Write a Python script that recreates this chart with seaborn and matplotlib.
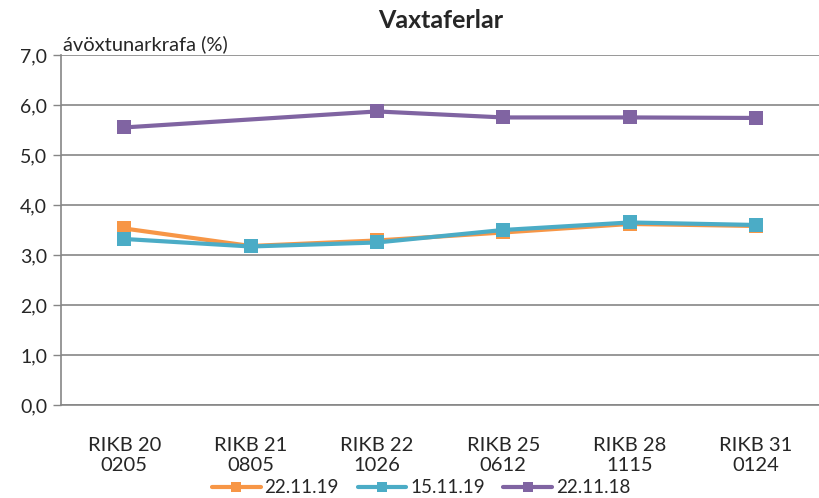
import numpy as np
import pandas as pd
import matplotlib.pyplot as plt
import seaborn as sns

# Data
bonds = ['RIKB 20\n0205', 'RIKB 21\n0805', 'RIKB 22\n1026',
         'RIKB 25\n0612', 'RIKB 28\n1115', 'RIKB 31\n0124']
yield_221119 = [3.53, 3.18, 3.29, 3.45, 3.62, 3.58]
yield_151119 = [3.32, 3.17, 3.25, 3.50, 3.65, 3.60]
yield_221118 = [5.55, np.nan, 5.87, 5.75, 5.75, 5.74]

series_names = ['22.11.19', '15.11.19', '22.11.18']
colors = ['#F79646', '#4BACC6', '#8064A2']

df = pd.DataFrame({'pos': range(len(bonds)),
                   '22.11.19': yield_221119,
                   '15.11.19': yield_151119,
                   '22.11.18': yield_221118})
long_df = df.melt(id_vars='pos', var_name='series', value_name='yield').dropna()

sns.set_theme(style='white')
plt.rcParams['font.family'] = ['Lato', 'DejaVu Sans']

fig = plt.figure(figsize=(8.2, 4.98), dpi=100)
ax = fig.add_axes([0.0744, 0.1867, 0.9246, 0.703])

sns.lineplot(data=long_df, x='pos', y='yield', hue='series', hue_order=series_names,
             palette=colors, style='series', markers=['s', 's', 's'], dashes=False,
             markersize=10, markeredgewidth=0, linewidth=3, sort=False, ax=ax)

# axes styling
ax.set_xlim(-0.5, len(bonds) - 0.5)
ax.set_ylim(0, 7)
ax.set_yticks(np.arange(0, 8, 1))
ax.set_yticklabels([f'{v:.1f}'.replace('.', ',') for v in np.arange(0, 8, 1)], fontsize=14)
ax.set_xticks(range(len(bonds)))
ax.set_xticklabels(bonds, fontsize=14.5, linespacing=1.2)
ax.set_xticks(np.arange(-0.5, len(bonds), 1), minor=True)
ax.tick_params(axis='x', which='major', length=0, pad=23)
ax.tick_params(axis='x', which='minor', length=6, color='#868686', width=1)
ax.tick_params(axis='y', length=6, color='#868686', width=1, left=True, pad=4)
ax.grid(axis='y', color='#868686', linewidth=1.2)
ax.set_axisbelow(True)
for s in ['top', 'right']:
    ax.spines[s].set_visible(False)
for s in ['left', 'bottom']:
    ax.spines[s].set_color('#868686')
    ax.spines[s].set_linewidth(1.2)
ax.set_xlabel('')
ax.set_ylabel('')

ax.text(0.003, 7.03, 'ávöxtunarkrafa (%)', fontsize=14.5, ha='left', va='bottom',
        transform=ax.get_yaxis_transform())
fig.text(0.537, 0.958, 'Vaxtaferlar', fontsize=18, fontweight='bold', ha='center', va='center')

handles, labels = ax.get_legend_handles_labels()
ax.legend(handles, labels, loc='center', bbox_to_anchor=(0.475, -0.237), ncol=3,
          frameon=False, fontsize=13.5, handlelength=2.6, handletextpad=0.2,
          columnspacing=1.0, borderpad=0, markerscale=0.7)

plt.savefig('out.png', dpi=100)
